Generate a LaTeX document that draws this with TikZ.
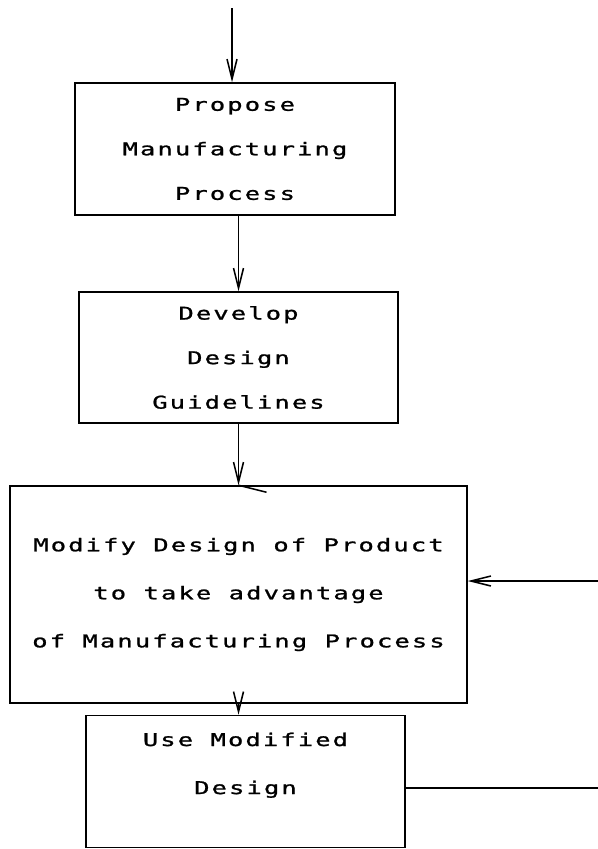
\documentclass[tikz,border=0pt]{standalone}
\usepackage{fontspec}
\newfontfamily\plotfont[LetterSpace=12,FakeStretch=1.45,FakeBold=1.2]{DejaVu Sans Mono}
\usetikzlibrary{arrows.meta}

\begin{document}
\begin{tikzpicture}[x=0.3mm,y=-0.3mm,
		stage/.style={draw, line width=1.3pt, align=center, inner sep=0pt, font=\plotfont\fontsize{15}{38}\selectfont},
		widestage/.style={stage, font=\plotfont\fontsize{15}{41}\selectfont},
		flow/.style={line width=1.3pt, -{Straight Barb[length=6mm,width=3mm]}}
		]
		\useasboundingbox (0,0) rectangle (598,849);

		% Stages
		\node[stage, minimum width=96mm, minimum height=39.6mm] (propose) at (235,149) {Propose\\Manufacturing\\Process};
		\node[stage, minimum width=95.7mm, minimum height=39.3mm] (develop) at (238.5,357.5) {Develop\\Design\\Guidelines};
		\node[widestage, minimum width=137.1mm, minimum height=65.1mm] (modify) at (238.5,594.5) {Modify Design of Product\\to take advantage\\of Manufacturing Process};
		\node[widestage, minimum width=95.7mm, minimum height=39.6mm] (use) at (245.5,781.5) {Use Modified\\Design\\[-10pt]\mbox{}};

		% Loose ends at the page border
		\coordinate (start) at (232,8);
		\coordinate (back) at (598,581);
		\coordinate (out) at (598,788);

		% Arrows
		\draw[flow] (start) -- (start |- propose.north);
		\draw[flow] (propose.south -| develop.north) -- (develop.north);
		\draw[flow] (develop.south) -- (modify.north);
		\draw[line width=1.3pt] (modify.north) -- ++(28,7);
		\draw[flow] (modify.south) -- (modify.south |- use.north);
		\draw[line width=1.3pt] (use.east |- out) -- (out);
		\draw[flow] (back) -- (back -| modify.east);
	\end{tikzpicture}
\end{document}
